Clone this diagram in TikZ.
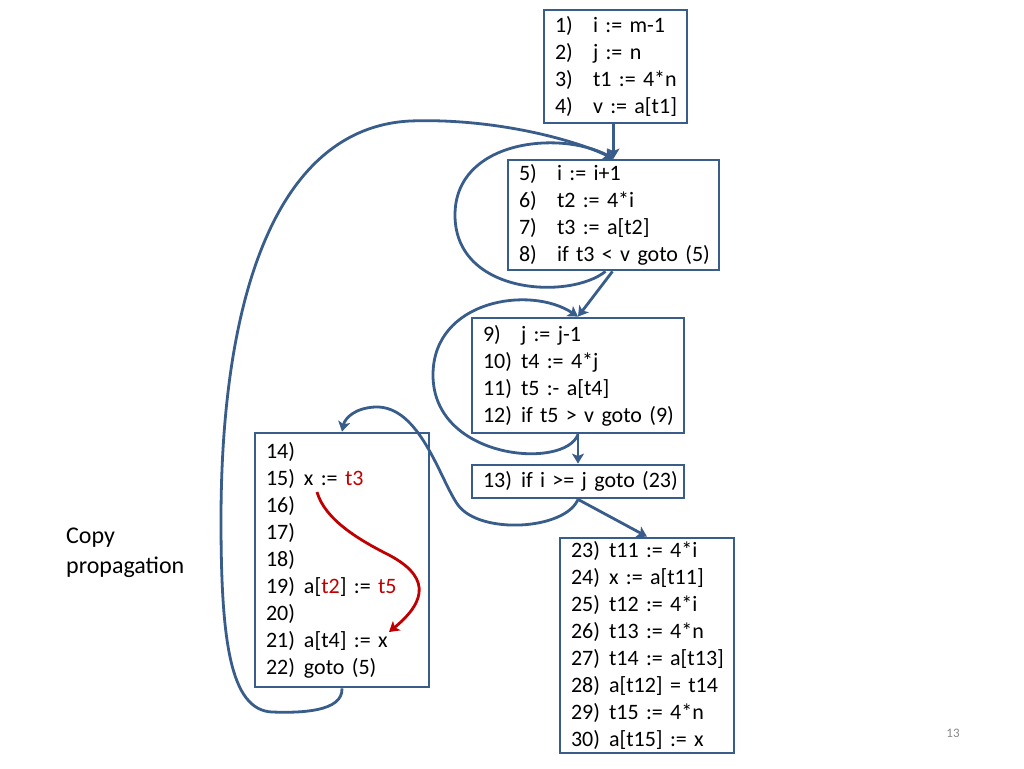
\documentclass[tikz,border=0pt]{standalone}
\usepackage{fontspec}
\setmainfont{Carlito}
\usetikzlibrary{arrows.meta}
\definecolor{bblue}{RGB}{56,93,138}
\definecolor{dred}{RGB}{192,0,0}
\definecolor{pgray}{RGB}{137,137,137}
\newcommand\codeln[2]{\mbox{\makebox[38pt][l]{#1}#2}}
\begin{document}
\begin{tikzpicture}[x=1pt,y=-1pt,
  blk/.style={draw=bblue, line width=2.8pt, fill=white, inner xsep=11pt, inner ysep=0pt,
    align=left, font=\fontsize{22}{27}\selectfont},
  conn/.style={draw=bblue, line width=2.8pt, -{Stealth[length=10pt,width=12pt,inset=2.5pt]}},
  redarr/.style={draw=dred, line width=2.8pt, -{Stealth[length=10pt,width=12pt,inset=2.5pt]}}]
\useasboundingbox (0,0) rectangle (1024,768);
\fill[white] (0,0) rectangle (1024,768);

\node[blk, minimum width=143pt, minimum height=113pt, text width=121pt] (b1) at (615.5,66.5)
 {\codeln{1)}{i := m-1}\\ \codeln{2)}{j := n}\\ \codeln{3)}{t1 := 4*n}\\ \codeln{4)}{v := a[t1]}};
\node[blk, minimum width=211pt, minimum height=110pt, text width=189pt] (b2) at (613.5,215)
 {\codeln{5)}{i := i+1}\\ \codeln{6)}{t2 := 4*i}\\ \codeln{7)}{t3 := a[t2]}\\ \codeln{8)}{if t3 < v goto (5)}};
\node[blk, minimum width=212pt, minimum height=115pt, text width=190pt] (b3) at (578,375.5)
 {\codeln{9)}{j := j-1}\\ \codeln{10)}{t4 := 4*j}\\ \codeln{11)}{t5 :- a[t4]}\\ \codeln{12)}{if t5 > v goto (9)}};
\node[blk, minimum width=212pt, minimum height=33pt, text width=190pt] (b4) at (578,481.5)
 {\codeln{13)}{if i >= j goto (23)}};
\node[blk, minimum width=174pt, minimum height=254pt, text width=152pt] (b5) at (342,560)
 {\codeln{14)}{}\\ \codeln{15)}{x := \textcolor{dred}{t3}}\\ \codeln{16)}{}\\ \codeln{17)}{}\\ \codeln{18)}{}\\
  \codeln{19)}{a[\textcolor{dred}{t2}] := \textcolor{dred}{t5}}\\ \codeln{20)}{}\\ \codeln{21)}{a[t4] := x}\\ \codeln{22)}{goto (5)}};
\node[blk, minimum width=174pt, minimum height=215pt, text width=152pt] (b6) at (647,645.5)
 {\codeln{23)}{t11 := 4*i}\\ \codeln{24)}{x := a[t11]}\\ \codeln{25)}{t12 := 4*i}\\ \codeln{26)}{t13 := 4*n}\\
  \codeln{27)}{t14 := a[t13]}\\ \codeln{28)}{a[t12] = t14}\\ \codeln{29)}{t15 := 4*n}\\ \codeln{30)}{a[t15] := x}};

\node[font=\fontsize{24}{30}\selectfont, align=left, anchor=west, inner sep=0pt] (cp) at (66,553) {Copy\\propagation};
\node[text=pgray, font=\fontsize{13}{15}\selectfont, inner sep=0pt] (pn) at (953,733) {13};

% straight connectors
\draw[conn] (b1.south -| b2.north) -- (b2.north);
\draw[conn] ([xshift=-1pt]b2.south) -- (b3.north);
\draw[conn] (b3.south) -- (b4.north);
\draw[conn] (b4.south) -- (b6.north);

% loop 8 -> 5
\draw[conn] ([xshift=-8pt]b2.south) .. controls (570,300) and (455,295) .. (455,215)
  .. controls (455,140) and (560,130) .. (b2.north);
% loop 12 -> 9
\draw[conn] (b3.south) .. controls (565,470) and (433,460) .. (433,375)
  .. controls (433,300) and (530,285) .. (b3.north);
% 13 -> 14
\draw[conn] (b4.south) .. controls (565,530) and (480,535) .. (458,505)
  .. controls (440,480) and (420,405) .. (375,407)
  .. controls (355,408) and (345,418) .. (b5.north);
% 22 -> 5
\draw[conn] (b5.south) .. controls (343,712) and (300,713) .. (272,712)
  .. controls (230,710) and (221,640) .. (221,520)
  .. controls (221,300) and (275,128) .. (410,121)
  .. controls (490,118) and (570,138) .. (b2.north);

% copy propagation arrow
\coordinate (rs) at (317,492);
\coordinate (re) at (389,632);
\draw[redarr] (rs) .. controls (325,520) and (360,540) .. (385,553)
  .. controls (430,575) and (428,600) .. (re);
\end{tikzpicture}
\end{document}
